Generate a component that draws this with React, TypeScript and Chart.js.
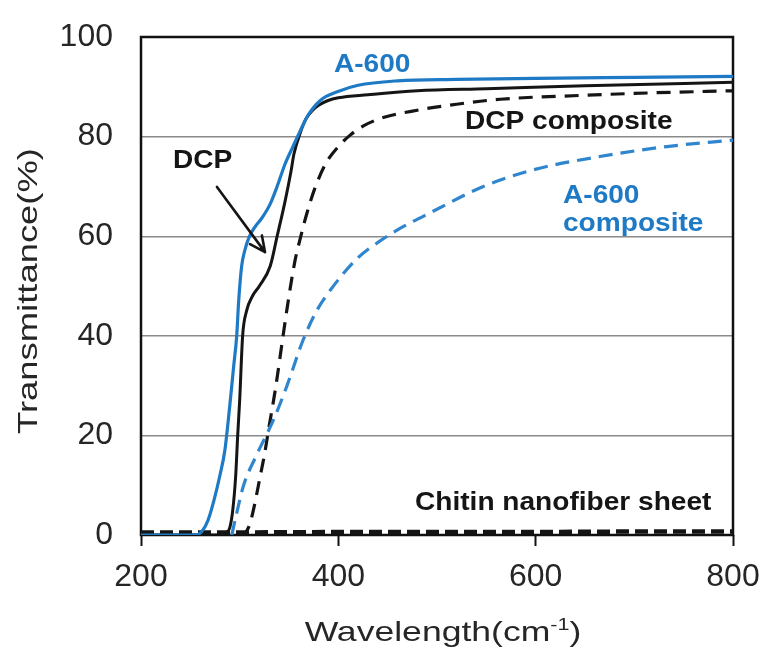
import React, { useEffect, useRef } from "react";
import { Chart, registerables } from "chart.js";

Chart.register(...registerables);

// Wavelength (nm on the axis) and transmittance (%) readings per sample
const a600Wave = [200, 255, 262, 268, 274, 280, 285, 290, 294, 297, 299, 302, 305, 310, 316, 322, 331, 338, 346, 354, 361, 370, 382, 399, 420, 460, 520, 600, 700, 800];
const a600Trans = [0, 0, 0.8, 3, 7, 12, 17, 26, 34, 40, 47, 54, 57, 60, 62, 63.5, 66.5, 70, 74.5, 78, 81, 84.5, 87.3, 89, 90.3, 91.2, 91.5, 91.7, 91.9, 92.1];

const dcpWave = [200, 280, 286, 290, 293, 296, 298, 300, 303, 307, 313, 320, 331, 338, 346, 352, 355, 361, 367, 374, 380, 389, 400, 430, 480, 550, 650, 800];
const dcpTrans = [0, 0, 0.5, 1.5, 5, 12, 20, 27, 40, 45, 48, 50, 54, 60, 67, 73, 76.5, 80.5, 83.5, 85.3, 86.3, 87.2, 87.8, 88.4, 89.2, 89.6, 90.2, 90.9];

const dcpCompWave = [300, 305, 310, 315, 320, 325, 330, 336, 344, 350, 356, 362, 368, 376, 387, 400, 412, 425, 442, 480, 520, 564, 650, 720, 800];
const dcpCompTrans = [0, 0.3, 2, 6, 11, 16, 22, 29, 40, 48, 55, 60, 64.5, 69.5, 74.5, 78, 80.3, 82.1, 83.6, 85.3, 86.5, 87.5, 88.3, 88.8, 89.2];

const a600CompWave = [292, 297, 304, 317, 334, 348, 364, 378, 392, 419, 442, 462, 496, 547, 597, 665, 733, 800];
const a600CompTrans = [0, 4.4, 10, 16, 23, 30, 39, 45, 49.2, 55.5, 59, 61.5, 65, 70, 73.3, 76, 78, 79.3];

const chitinWave = [200, 300, 400, 500, 600, 700, 800];
const chitinTrans = [0.5, 0.5, 0.6, 0.6, 0.6, 0.7, 0.7];

const xTicks = [200, 400, 600, 800];
const yTicks = [0, 20, 40, 60, 80, 100];

const BLUE = "#1f7ac6";
const BLUE_DASH = "#2f86cf";
const BLACK = "#151515";
const TEXT = "#262626";

const FONT = "'Liberation Sans', Arial, Helvetica, sans-serif";

// In-plot labels, anchored at their left baseline in data units
const notes = [
  { text: "A-600", x: 395.6, y: 93.0, color: BLUE },
  { text: "DCP composite", x: 528.4, y: 81.5, color: BLACK },
  { text: "DCP", x: 232.4, y: 73.7, color: BLACK },
  { text: "A-600", x: 627.7, y: 66.7, color: BLUE },
  { text: "composite", x: 627.7, y: 61.0, color: BLUE },
  { text: "Chitin nanofiber sheet", x: 477.7, y: 5.0, color: BLACK },
];

// Pointer from the "DCP" label to its curve
const arrowFrom = { x: 277, y: 69.9 };
const arrowTo = { x: 325.7, y: 56.8 };

const pts = (xs: number[], ys: number[]) => xs.map((x, i) => ({ x, y: ys[i] }));

function stretchedText(
  ctx: CanvasRenderingContext2D,
  text: string,
  x: number,
  y: number,
  font: string,
  color: string,
  sx: number
) {
  ctx.save();
  ctx.translate(x, y);
  ctx.scale(sx, 1);
  ctx.font = font;
  ctx.fillStyle = color;
  ctx.textAlign = "left";
  ctx.textBaseline = "alphabetic";
  ctx.fillText(text, 0, 0);
  ctx.restore();
}

const framePlugin = {
  id: "frame",
  beforeDatasetsDraw(chart: any) {
    const { ctx, chartArea } = chart;
    ctx.save();
    ctx.strokeStyle = "#111";
    ctx.lineWidth = 2.5;
    ctx.strokeRect(chartArea.left, chartArea.top, chartArea.right - chartArea.left, chartArea.bottom - chartArea.top);
    ctx.restore();
  },
  afterDatasetsDraw(chart: any) {
    const { ctx, scales } = chart;
    const xs = scales.x;
    const ys = scales.y;
    const bold = `bold 26px ${FONT}`;
    for (const n of notes) {
      stretchedText(ctx, n.text, xs.getPixelForValue(n.x), ys.getPixelForValue(n.y), bold, n.color, 1.08);
    }

    // arrow
    const x0 = xs.getPixelForValue(arrowFrom.x);
    const y0 = ys.getPixelForValue(arrowFrom.y);
    const x1 = xs.getPixelForValue(arrowTo.x);
    const y1 = ys.getPixelForValue(arrowTo.y);
    const ang = Math.atan2(y1 - y0, x1 - x0);
    const wing = 17;
    const spread = 0.45;
    ctx.save();
    ctx.strokeStyle = BLACK;
    ctx.lineWidth = 2.6;
    ctx.lineCap = "round";
    ctx.lineJoin = "round";
    ctx.beginPath();
    ctx.moveTo(x0, y0);
    ctx.lineTo(x1, y1);
    ctx.moveTo(x1 - wing * Math.cos(ang - spread), y1 - wing * Math.sin(ang - spread));
    ctx.lineTo(x1, y1);
    ctx.lineTo(x1 - wing * Math.cos(ang + spread), y1 - wing * Math.sin(ang + spread));
    ctx.stroke();
    ctx.restore();
  },
  afterDraw(chart: any) {
    const { ctx, chartArea } = chart;
    const regular = `28px ${FONT}`;
    const sup = `17px ${FONT}`;

    // x-axis title with superscript
    ctx.save();
    const sx = 1.27;
    ctx.font = regular;
    const wMain = ctx.measureText("Wavelength(cm").width * sx;
    const wClose = ctx.measureText(")").width * sx;
    ctx.font = sup;
    const wSup = ctx.measureText("-1").width * sx;
    const total = wMain + wSup + wClose;
    const cx = (chartArea.left + chartArea.right) / 2 + 6;
    const base = 641;
    let left = cx - total / 2;
    stretchedText(ctx, "Wavelength(cm", left, base, regular, TEXT, sx);
    left += wMain;
    stretchedText(ctx, "-1", left, base - 11, sup, TEXT, sx);
    left += wSup;
    stretchedText(ctx, ")", left, base, regular, TEXT, sx);
    ctx.restore();

    // y-axis title
    ctx.save();
    ctx.translate(37, 291);
    ctx.rotate(-Math.PI / 2);
    ctx.scale(1.3, 1);
    ctx.font = regular;
    ctx.fillStyle = TEXT;
    ctx.textAlign = "center";
    ctx.textBaseline = "alphabetic";
    ctx.fillText("Transmittance(%)", 0, 0);
    ctx.restore();
  },
};

export default function App() {
  const canvasRef = useRef<HTMLCanvasElement | null>(null);

  useEffect(() => {
    if (!canvasRef.current) return;
    const chart = new Chart(canvasRef.current, {
      type: "line",
      data: {
        datasets: [
          {
            label: "A-600 composite",
            data: pts(a600CompWave, a600CompTrans),
            borderColor: BLUE_DASH,
            borderWidth: 3.2,
            borderDash: [14, 8],
            pointRadius: 0,
            cubicInterpolationMode: "monotone",
          },
          {
            label: "DCP composite",
            data: pts(dcpCompWave, dcpCompTrans),
            borderColor: BLACK,
            borderWidth: 3.2,
            borderDash: [14, 9],
            pointRadius: 0,
            cubicInterpolationMode: "monotone",
          },
          {
            label: "A-600",
            data: pts(a600Wave, a600Trans),
            borderColor: BLUE,
            borderWidth: 3.2,
            pointRadius: 0,
            cubicInterpolationMode: "monotone",
          },
          {
            label: "DCP",
            data: pts(dcpWave, dcpTrans),
            borderColor: BLACK,
            borderWidth: 3,
            pointRadius: 0,
            cubicInterpolationMode: "monotone",
          },
          {
            label: "Chitin nanofiber sheet",
            data: pts(chitinWave, chitinTrans),
            borderColor: BLACK,
            borderWidth: 4.5,
            borderDash: [13, 6],
            pointRadius: 0,
          },
        ],
      },
      options: {
        responsive: true,
        maintainAspectRatio: false,
        animation: false,
        layout: { padding: { top: 37, right: 42, left: 0, bottom: 0 } },
        plugins: {
          legend: { display: false },
          tooltip: { enabled: false },
        },
        scales: {
          x: {
            type: "linear",
            min: 200,
            max: 800,
            afterFit: (s: any) => {
              s.height = 124;
              s.paddingLeft = 0;
              s.paddingRight = 0;
            },
            afterBuildTicks: (s: any) => {
              s.ticks = xTicks.map((v) => ({ value: v }));
            },
            ticks: {
              font: { family: FONT, size: 32 },
              color: TEXT,
              padding: 12,
              maxRotation: 0,
            },
            grid: {
              drawOnChartArea: false,
              drawTicks: true,
              tickLength: 11,
              tickColor: "#111",
              tickWidth: 2,
            },
            border: { display: false },
          },
          y: {
            type: "linear",
            min: 0,
            max: 100,
            afterFit: (s: any) => {
              s.width = 141;
              s.paddingTop = 0;
              s.paddingBottom = 0;
            },
            afterBuildTicks: (s: any) => {
              s.ticks = yTicks.map((v) => ({ value: v }));
            },
            ticks: {
              font: { family: FONT, size: 32 },
              color: TEXT,
              padding: 28,
            },
            grid: {
              drawTicks: false,
              color: "#8a8a8a",
              lineWidth: 1.4,
            },
            border: { display: false },
          },
        },
      },
      plugins: [framePlugin],
    });
    return () => chart.destroy();
  }, []);

  return (
    <div style={{ position: "absolute", left: 0, top: 0, width: 775, height: 659, background: "#fff" }}>
      <canvas ref={canvasRef} />
    </div>
  );
}
